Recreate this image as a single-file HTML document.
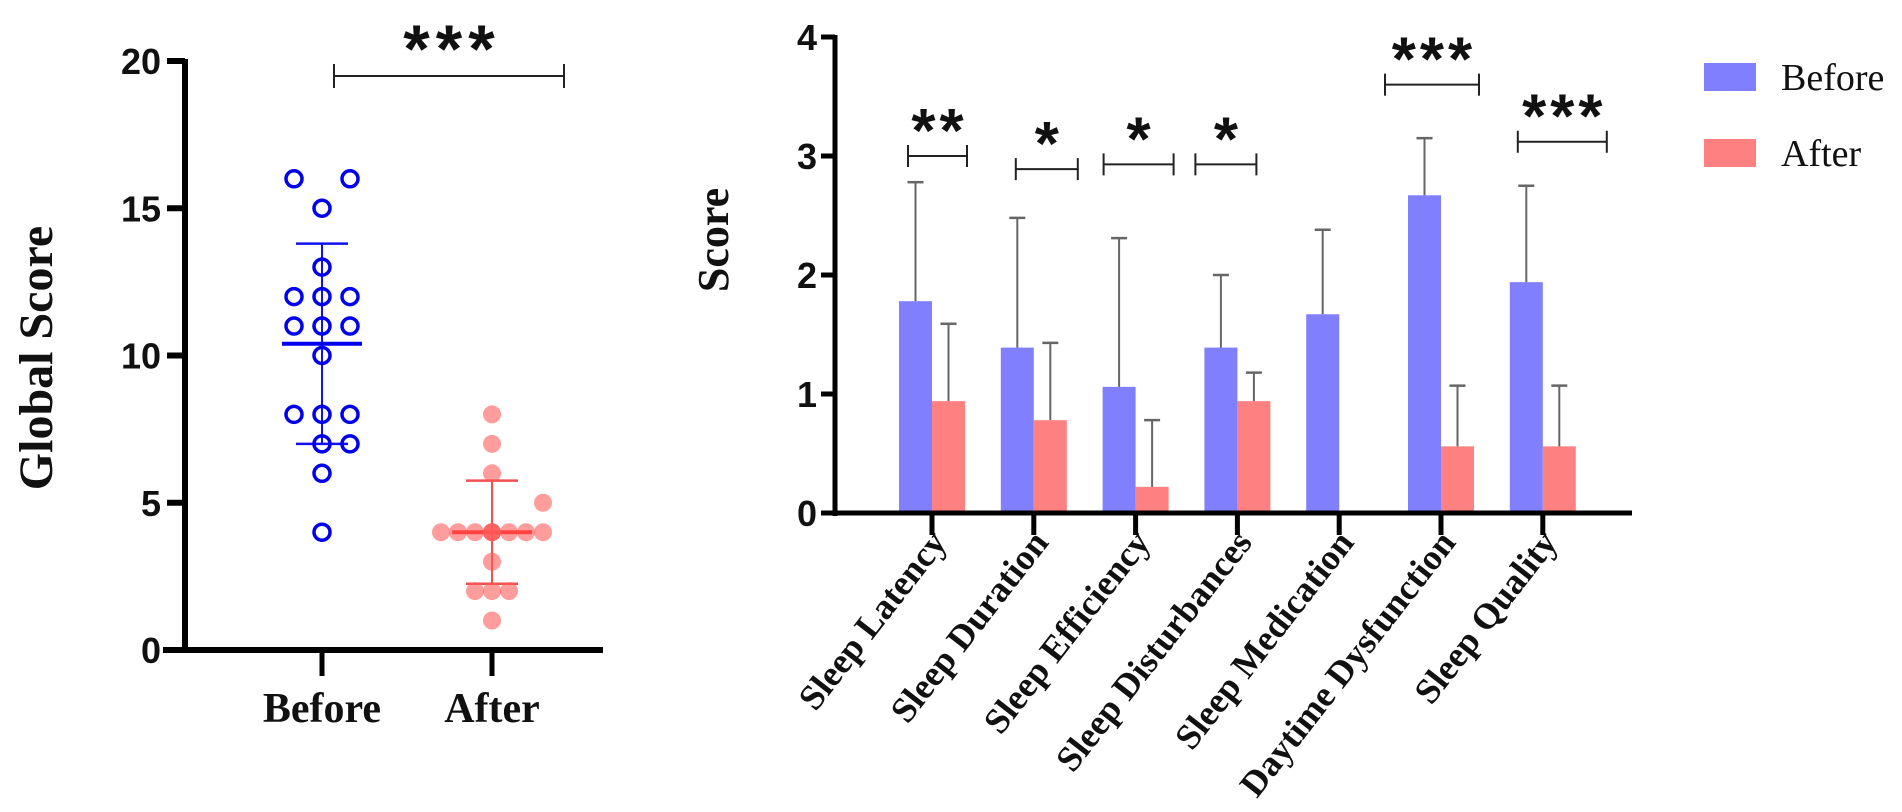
<!DOCTYPE html>
<html><head><meta charset="utf-8">
<style>
html,body{margin:0;padding:0;background:#fff;}
svg{display:block;}
.tick{font-family:"Liberation Sans",Arial,sans-serif;font-weight:bold;fill:#111;}
.serif{font-family:"Liberation Serif","Times New Roman",serif;font-weight:bold;fill:#111;}
</style></head>
<body>
<svg id="chart" width="1902" height="812" viewBox="0 0 1902 812" xmlns="http://www.w3.org/2000/svg">
<g id="left"></g>
<g id="right"></g>
</svg>
<script>
// ---- Left chart data ----
const leftGroups = ["Before", "After"];
const beforeValues = [16,16,15,13,12,12,12,11,11,11,10,8,8,8,7,7,6,4];
const beforeOffsets = [-1,1,0,0,-1,0,1,-1,0,1,0,-1,0,1,0,1,0,0];
const afterValues = [8,7,6,5,4,4,4,4,4,4,4,4,4,3,2,2,2,1];
const afterOffsets = [0,0,0,3,-3,-2,-1,0,0,0,1,2,3,0,-1,0,1,0];
const leftMeans = [10.4, 4.0];
const leftSD = [3.4, 1.75];
const leftTicks = [0,5,10,15,20];

// ---- Right chart data ----
const categories = ["Sleep Latency","Sleep Duration","Sleep Efficiency","Sleep Disturbances","Sleep Medication","Daytime Dysfunction","Sleep Quality"];
const beforeMeans = [1.78,1.39,1.06,1.39,1.67,2.67,1.94];
const beforeSD = [1.0,1.09,1.25,0.61,0.71,0.48,0.81];
const afterMeans = [0.94,0.78,0.22,0.94,0,0.56,0.56];
const afterSD = [0.65,0.65,0.56,0.24,0,0.51,0.51];
const rightTicks = [0,1,2,3,4];
const sigLabels = ["**","*","*","*","","***","***"];
const sigLevels = [3.0,2.89,2.93,2.93,null,3.6,3.12];

// layout constants for brackets (px relative to tick)
const bracketL = [-24,-18,-32,-42,0,-56,-25];
const bracketR = [35,44,38,19,0,38,64];

const NS="http://www.w3.org/2000/svg";
function mk(parent,tag,attrs,text){
  const e=document.createElementNS(NS,tag);
  for(const k in attrs) e.setAttribute(k,attrs[k]);
  if(text!==undefined) e.textContent=text;
  parent.appendChild(e); return e;
}

// ---------- LEFT ----------
(function(){
  const g=document.getElementById('left');
  const ax=185, y0=650, y20=61;
  const y=v=>y0-(v/20)*(y0-y20);
  const gx=[322,492];
  const step=[28,17];
  let e;
  e=mk(g,'line',{x1:ax,y1:y20-2,x2:ax,y2:y0+3,stroke:'#000','stroke-width':6});
  
  
  e=mk(g,'line',{x1:ax-22,y1:y0,x2:603,y2:y0,stroke:'#000','stroke-width':6});
  
  
  leftTicks.forEach(t=>{
    mk(g,'line',{x1:ax-18,y1:y(t),x2:ax,y2:y(t),stroke:'#000','stroke-width':6});
    e=mk(g,'text',{x:ax-24,y:y(t)+13,'text-anchor':'end',class:'tick',style:'font-size:36px'},String(t));
    
    
  });
  leftGroups.forEach((n,i)=>{
    mk(g,'line',{x1:gx[i],y1:y0,x2:gx[i],y2:y0+26,stroke:'#000','stroke-width':5});
    e=mk(g,'text',{x:gx[i],y:y0+72,'text-anchor':'middle',class:'serif','font-size':42},n);
    
    
  });
  e=mk(g,'text',{x:0,y:0,'text-anchor':'middle',class:'serif','font-size':48,transform:'translate(52,358) rotate(-90)'},'Global Score');
  
  
  const cols=['#1010f0','#f25050'];
  leftMeans.forEach((m,i)=>{
    const c=gx[i], sd=leftSD[i];
    e=mk(g,'line',{x1:c,y1:y(m+sd),x2:c,y2:y(m-sd),stroke:cols[i],'stroke-width':2});
    
    
    mk(g,'line',{x1:c-26,y1:y(m+sd),x2:c+26,y2:y(m+sd),stroke:cols[i],'stroke-width':2.5});
    mk(g,'line',{x1:c-26,y1:y(m-sd),x2:c+26,y2:y(m-sd),stroke:cols[i],'stroke-width':2.5});
    e=mk(g,'line',{x1:c-40,y1:y(m),x2:c+40,y2:y(m),stroke:i?'#ff2020':'#0000ee','stroke-width':4});
    
    
  });
  beforeValues.forEach((v,i)=>{
    e=mk(g,'circle',{cx:gx[0]+beforeOffsets[i]*step[0],cy:y(v),r:8,fill:'none',stroke:'#0000ee','stroke-width':3.5});
    
    
  });
  afterValues.forEach((v,i)=>{
    e=mk(g,'circle',{cx:gx[1]+afterOffsets[i]*step[1],cy:y(v),r:9,fill:'#ff5a5a','fill-opacity':0.6});
    
    
  });
  const by=76;
  e=mk(g,'path',{d:`M334 ${by-12}V${by+12}M334 ${by}H564M564 ${by-12}V${by+12}`,stroke:'#222','stroke-width':2,fill:'none'});
  
  
  e=mk(g,'text',{x:452,y:72,'text-anchor':'middle',class:'tick',style:'font-size:68px;letter-spacing:6px'},'***');
  
  
})();

// ---------- RIGHT ----------
(function(){
  const g=document.getElementById('right');
  const ax=835, y0=513, y4=37;
  const y=v=>y0-(v/4)*(y0-y4);
  const x0=932, dx=101.8, bw=33;
  const cx=i=>x0+i*dx;
  let e;
  e=mk(g,'line',{x1:ax,y1:y4-2,x2:ax,y2:y0+3,stroke:'#000','stroke-width':5});
  
  
  rightTicks.forEach(t=>{
    mk(g,'line',{x1:ax-14,y1:y(t),x2:ax,y2:y(t),stroke:'#000','stroke-width':5});
    e=mk(g,'text',{x:ax-18,y:y(t)+13,'text-anchor':'end',class:'tick',style:'font-size:36px'},String(t));
    
    
  });
  e=mk(g,'text',{x:0,y:0,'text-anchor':'middle',class:'serif','font-size':44,transform:'translate(728,240) rotate(-90)'},'Score');
  
  
  categories.forEach((c,i)=>{
    const x=cx(i);
    e=mk(g,'rect',{x:x-bw,y:y(beforeMeans[i]),width:bw,height:y0-y(beforeMeans[i]),fill:'#8080ff'});
    
    
    e=mk(g,'line',{x1:x-bw/2,y1:y(beforeMeans[i]),x2:x-bw/2,y2:y(beforeMeans[i]+beforeSD[i]),stroke:'#666','stroke-width':2});
    
    
    mk(g,'line',{x1:x-bw/2-8,y1:y(beforeMeans[i]+beforeSD[i]),x2:x-bw/2+8,y2:y(beforeMeans[i]+beforeSD[i]),stroke:'#666','stroke-width':2.5});
    if(afterMeans[i]>0){
      e=mk(g,'rect',{x:x,y:y(afterMeans[i]),width:bw,height:y0-y(afterMeans[i]),fill:'#ff8080'});
      
      
      e=mk(g,'line',{x1:x+bw/2,y1:y(afterMeans[i]),x2:x+bw/2,y2:y(afterMeans[i]+afterSD[i]),stroke:'#666','stroke-width':2});
      
      
      mk(g,'line',{x1:x+bw/2-8,y1:y(afterMeans[i]+afterSD[i]),x2:x+bw/2+8,y2:y(afterMeans[i]+afterSD[i]),stroke:'#666','stroke-width':2.5});
    }
    mk(g,'line',{x1:x,y1:y0,x2:x,y2:y0+22,stroke:'#000','stroke-width':5});
    e=mk(g,'text',{x:0,y:0,'text-anchor':'end',class:'serif','font-size':36,transform:`translate(${x+16},${y0+30}) rotate(-52)`},c);
    
    
    if(sigLevels[i]!==null){
      const by=y(sigLevels[i]), l=x+bracketL[i], r=x+bracketR[i];
      e=mk(g,'path',{d:`M${l} ${by-11}V${by+11}M${l} ${by}H${r}M${r} ${by-11}V${by+11}`,stroke:'#222','stroke-width':2,fill:'none'});
      
      
      e=mk(g,'text',{x:(l+r)/2+2,y:by-4,'text-anchor':'middle',class:'tick',style:'font-size:62px;letter-spacing:4px'},sigLabels[i]);
      
      
    }
  });
  e=mk(g,'line',{x1:ax-3,y1:y0,x2:1632,y2:y0,stroke:'#000','stroke-width':5});
  
  
  e=mk(g,'rect',{x:1704,y:63,width:52,height:28,fill:'#8080ff'});
  
  
  e=mk(g,'text',{x:1781,y:90,'font-family':'"Liberation Serif",serif','font-size':38,fill:'#111'},'Before');
  
  
  e=mk(g,'rect',{x:1704,y:139,width:52,height:28,fill:'#ff8080'});
  
  
  e=mk(g,'text',{x:1781,y:166,'font-family':'"Liberation Serif",serif','font-size':38,fill:'#111'},'After');
  
  
})();
</script>
</body></html>
